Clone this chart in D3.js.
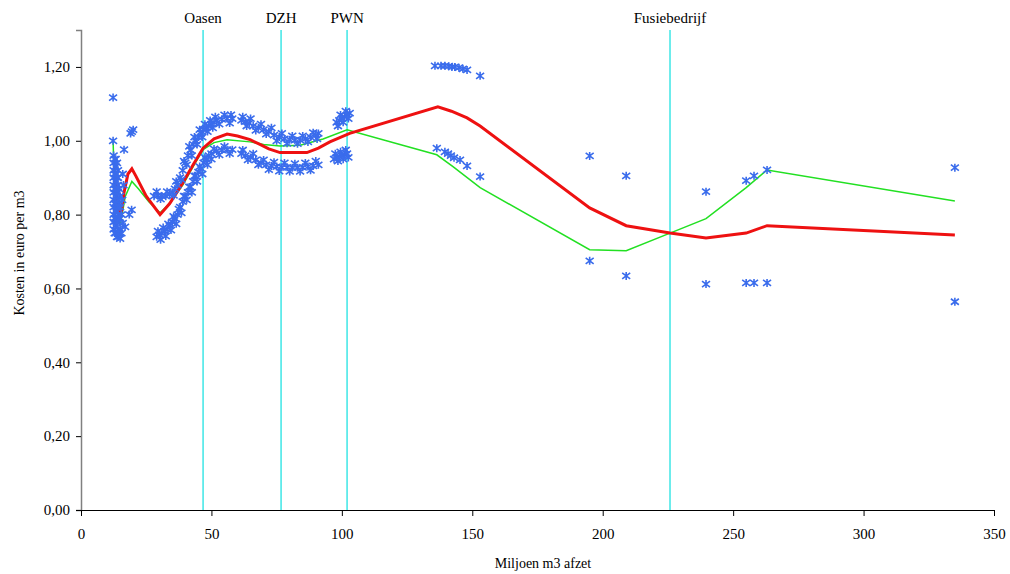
<!DOCTYPE html>
<html>
<head>
<meta charset="utf-8">
<script src="https://cdn.jsdelivr.net/npm/d3@7"></script>
<style>
  body { margin: 0; background: #fff; }
  svg text { font-family: "Liberation Serif", "Times New Roman", serif; fill: #000; }
</style>
</head>
<body>
<div id="chart"></div>
<script>
// vertical markers for the companies
const companies = [
  { name: 'Oasen', x: 46.8 },
  { name: 'DZH', x: 76.7 },
  { name: 'PWN', x: 102 },
  { name: 'Fusiebedrijf', x: 225.8 }
]

// observed costs (blue asterisks)
const clusterPoints = [
  [12.3, 1.117], [12.3, 1.0], [12.5, 0.96], [12.5, 0.94], [12.5, 0.92], [12.5, 0.9], [12.5, 0.88],
  [12.5, 0.86], [12.5, 0.84], [12.5, 0.82], [12.5, 0.8], [12.5, 0.78], [12.5, 0.76],
  [12.9, 0.95], [12.9, 0.91], [12.9, 0.87], [12.9, 0.83], [12.9, 0.79], [12.9, 0.75],
  [13.3, 0.95], [13.3, 0.93], [13.3, 0.91], [13.3, 0.89], [13.3, 0.87], [13.3, 0.85],
  [13.3, 0.83], [13.3, 0.81], [13.3, 0.79], [13.3, 0.77], [13.3, 0.75],
  [13.8, 0.94], [13.8, 0.9], [13.8, 0.86], [13.8, 0.82], [13.8, 0.78], [13.8, 0.74],
  [14.2, 0.92], [14.2, 0.9], [14.2, 0.88], [14.2, 0.86], [14.2, 0.84], [14.2, 0.82],
  [14.2, 0.8], [14.2, 0.78], [14.2, 0.76], [14.2, 0.74],
  [14.6, 0.87], [14.6, 0.83], [14.6, 0.79], [14.6, 0.75],
  [15, 0.85], [15, 0.82], [15, 0.79], [15, 0.76], [15, 0.735],
  [15.5, 0.8], [15.5, 0.75], [15.8, 0.84],
  [16.5, 0.976], [19, 1.02], [19.5, 1.025], [20, 1.03], [16, 0.91], [16.3, 0.88],
  [19.4, 0.813], [18.5, 0.8], [16.9, 0.767], [16, 0.777]
]

const upperBand = [
  [28, 0.85], [29.5, 0.852], [31, 0.85], [32.5, 0.85], [34, 0.855], [35, 0.86], [36, 0.87],
  [37, 0.88], [38, 0.9], [39, 0.92], [40, 0.94], [41, 0.96], [42, 0.975], [43, 0.99],
  [44, 1.0], [45, 1.01], [46, 1.02], [47, 1.03], [48, 1.035], [49, 1.04], [50, 1.045],
  [51, 1.05], [52, 1.055], [54, 1.058], [56, 1.06], [58, 1.06],
  [61.5, 1.055], [63, 1.052], [64.5, 1.048], [66, 1.04], [68, 1.035], [70, 1.03], [72, 1.025],
  [74, 1.015], [76, 1.01], [78, 1.005], [80, 1.003], [82, 1.002], [84, 1.002], [86, 1.005],
  [88, 1.01], [90, 1.015], [91, 1.02],
  [98, 1.05], [99, 1.055], [100, 1.06], [101, 1.065], [102, 1.07], [103, 1.075]
]

const upperBandB = [
  [29, 0.862], [30.5, 0.842], [33, 0.862], [35.5, 0.852], [36.5, 0.89], [38.5, 0.895],
  [39.5, 0.945], [40.5, 0.935], [41.5, 0.985], [42.5, 0.96], [43.5, 1.01], [44.5, 0.99],
  [45.5, 1.03], [46.5, 1.01], [47.5, 1.045], [48.5, 1.025], [49.5, 1.055], [50.5, 1.035],
  [51.5, 1.065], [53, 1.045], [55, 1.07], [57, 1.048], [57.5, 1.07],
  [62, 1.065], [63.5, 1.04], [65, 1.06], [67, 1.028], [69, 1.045], [71, 1.018], [73, 1.035],
  [75, 1.0], [77, 1.02], [79, 0.993], [81, 1.013], [83, 0.992], [85, 1.013], [87, 0.997],
  [89, 1.022], [90.5, 1.005],
  [98.5, 1.04], [99.5, 1.07], [100.5, 1.05], [101.5, 1.08], [102.5, 1.06]
]

const lowerBand = [
  [29, 0.74], [30, 0.745], [31, 0.75], [32, 0.755], [33, 0.76], [34, 0.77], [35, 0.78],
  [36, 0.79], [37, 0.8], [38, 0.82], [39, 0.835], [40, 0.85], [41, 0.86], [42, 0.875],
  [43, 0.89], [44, 0.905], [45, 0.915], [46, 0.925], [47, 0.94], [48, 0.95], [49, 0.96],
  [50, 0.965], [52, 0.972], [54, 0.975], [56, 0.976], [58, 0.976],
  [61.5, 0.965], [63, 0.96], [65, 0.955], [67, 0.948], [69, 0.94], [71, 0.935], [73, 0.932],
  [75, 0.93], [77, 0.928], [79, 0.928], [81, 0.927], [83, 0.927], [85, 0.928], [87, 0.93],
  [89, 0.932], [91, 0.935],
  [97, 0.95], [98, 0.955], [99, 0.957], [100, 0.96], [101, 0.962], [102, 0.965]
]

const lowerBandB = [
  [29.5, 0.755], [30.5, 0.732], [31.5, 0.765], [32.5, 0.742], [33.5, 0.775], [34.5, 0.758],
  [35.5, 0.795], [36.5, 0.775], [37.5, 0.815], [38.5, 0.805], [39.5, 0.85], [40.5, 0.84],
  [41.5, 0.875], [42.5, 0.86], [43.5, 0.905], [44.5, 0.89], [45.5, 0.93], [46.5, 0.91],
  [47.5, 0.955], [48.5, 0.935], [50, 0.95], [51, 0.978], [53, 0.962], [55, 0.985], [57, 0.965],
  [62, 0.975], [64, 0.948], [66, 0.965], [68, 0.935], [70, 0.948], [72, 0.922], [74, 0.942],
  [76, 0.918], [78, 0.94], [80, 0.917], [82, 0.938], [84, 0.917], [86, 0.94], [88, 0.92],
  [90, 0.945],
  [97.5, 0.965], [98.5, 0.945], [99.5, 0.97], [100.5, 0.95], [101.5, 0.975], [102.5, 0.955]
]

const largePoints = [
  [135.7, 1.203], [138, 1.203], [139.5, 1.203], [141, 1.202], [142.2, 1.2], [143.3, 1.2],
  [144.9, 1.198], [146.4, 1.195], [148, 1.192], [153, 1.176],
  [136.4, 0.98], [139.5, 0.97], [140.7, 0.965], [141.8, 0.96], [143, 0.954], [145.3, 0.948],
  [148, 0.932], [153, 0.903],
  [195, 0.959], [195, 0.675], [209, 0.905], [209, 0.634], [239.6, 0.862], [239.6, 0.612],
  [255, 0.892], [258, 0.905], [263, 0.921], [255, 0.615], [258, 0.615], [263, 0.615],
  [335, 0.927], [335, 0.564]
]

// fitted curves
const redLine = [
  [12.8, 0.93], [13.5, 0.86], [14.5, 0.8], [15.5, 0.81], [16.5, 0.86], [18, 0.91], [19.5, 0.924],
  [21, 0.905], [25, 0.85], [30.3, 0.8], [34, 0.83], [39, 0.886], [43, 0.935], [46.8, 0.98],
  [51, 1.005], [56, 1.018], [60, 1.013], [64.8, 1.003], [68.6, 0.99], [72, 0.978],
  [76.3, 0.968], [86.6, 0.968], [91, 0.98], [95.4, 0.997], [103, 1.02], [136.8, 1.092],
  [142, 1.08], [148, 1.062], [153, 1.04], [195, 0.818], [209, 0.77], [225.8, 0.75],
  [239.6, 0.737], [255, 0.75], [263, 0.77], [335, 0.745]
]

const greenLine = [
  [12.3, 1.0], [12.6, 0.93], [13.5, 0.83], [15, 0.77], [17, 0.85], [19.5, 0.89],
  [22, 0.87], [26, 0.835], [30.3, 0.805], [34, 0.83], [39, 0.88], [43, 0.93], [46.8, 0.976],
  [51, 0.995], [56, 1.003], [64.8, 0.997], [70, 0.99], [76.3, 0.986], [84, 0.988],
  [92.8, 1.005], [102, 1.03], [122.6, 0.989], [136.4, 0.962], [142.6, 0.93], [153, 0.873],
  [195, 0.705], [209, 0.702], [225.8, 0.75], [239.6, 0.789], [255, 0.873], [263, 0.921],
  [335, 0.837]
]

const yTicks = [0, 0.2, 0.4, 0.6, 0.8, 1.0, 1.2]
const xTicks = [0, 50, 100, 150, 200, 250, 300, 350]

const width = 1010
const height = 574
const margin = { top: 30, right: 16, bottom: 64, left: 81 }

const svg = d3.select('#chart')
  .append('svg')
  .attr('width', width)
  .attr('height', height)

const x = d3.scaleLinear().domain([0, 350]).range([margin.left, width - margin.right])
const y = d3.scaleLinear().domain([0, 1.3]).range([height - margin.bottom, margin.top])

const fmt = (d) => d3.format('.2f')(d).replace('.', ',')

// company lines
svg.append('g')
  .selectAll('line')
  .data(companies)
  .join('line')
  .attr('x1', (d) => x(d.x))
  .attr('x2', (d) => x(d.x))
  .attr('y1', y(1.3))
  .attr('y2', y(0))
  .attr('stroke', '#3ee6e6')
  .attr('stroke-width', 1.5)

svg.append('g')
  .selectAll('text')
  .data(companies)
  .join('text')
  .attr('x', (d) => x(d.x))
  .attr('y', 23)
  .attr('text-anchor', 'middle')
  .style('font-size', '15px')
  .text((d) => d.name)

// axes
const yAxis = svg.append('g')
  .attr('transform', `translate(${margin.left},0)`)
  .call(d3.axisLeft(y).tickValues(yTicks).tickFormat(fmt).tickSize(5).tickPadding(6))
yAxis.select('.domain').attr('stroke', '#808080').attr('stroke-width', 1.5)
yAxis.selectAll('.tick line').attr('stroke', '#000')
yAxis.selectAll('.tick text').style('font-size', '15px').style('font-family', '"Liberation Serif", serif')

const xAxis = svg.append('g')
  .attr('transform', `translate(0,${y(0)})`)
  .call(d3.axisBottom(x).tickValues(xTicks).tickFormat(d3.format('d')).tickSize(6).tickSizeOuter(0).tickPadding(12))
xAxis.select('.domain').attr('stroke', '#000')
xAxis.selectAll('.tick text').style('font-size', '15px').style('font-family', '"Liberation Serif", serif')

svg.append('text')
  .attr('transform', `translate(24,${253}) rotate(-90)`)
  .attr('text-anchor', 'middle')
  .style('font-size', '14px')
  .text('Kosten in euro per m3')

svg.append('text')
  .attr('x', 543)
  .attr('y', 568)
  .attr('text-anchor', 'middle')
  .style('font-size', '14px')
  .text('Miljoen m3 afzet')

// curves
const line = d3.line().x((d) => x(d[0])).y((d) => y(d[1]))

svg.append('path')
  .datum(greenLine)
  .attr('d', line)
  .attr('fill', 'none')
  .attr('stroke', '#22e022')
  .attr('stroke-width', 1.5)

svg.append('path')
  .datum(redLine)
  .attr('d', line)
  .attr('fill', 'none')
  .attr('stroke', '#ee1111')
  .attr('stroke-width', 3)

// scatter asterisks
const allPoints = clusterPoints.concat(upperBand, upperBandB, lowerBand, lowerBandB, largePoints)
const s = 4
const star = `M0,${-s}V${s}M${-s},${-s * 0.75}L${s},${s * 0.75}M${-s},${s * 0.75}L${s},${-s * 0.75}`

svg.append('g')
  .selectAll('path')
  .data(allPoints)
  .join('path')
  .attr('transform', (d) => `translate(${x(d[0])},${y(d[1])})`)
  .attr('d', star)
  .attr('fill', 'none')
  .attr('stroke', '#3a6cec')
  .attr('stroke-width', 1.6)
</script>
</body>
</html>
